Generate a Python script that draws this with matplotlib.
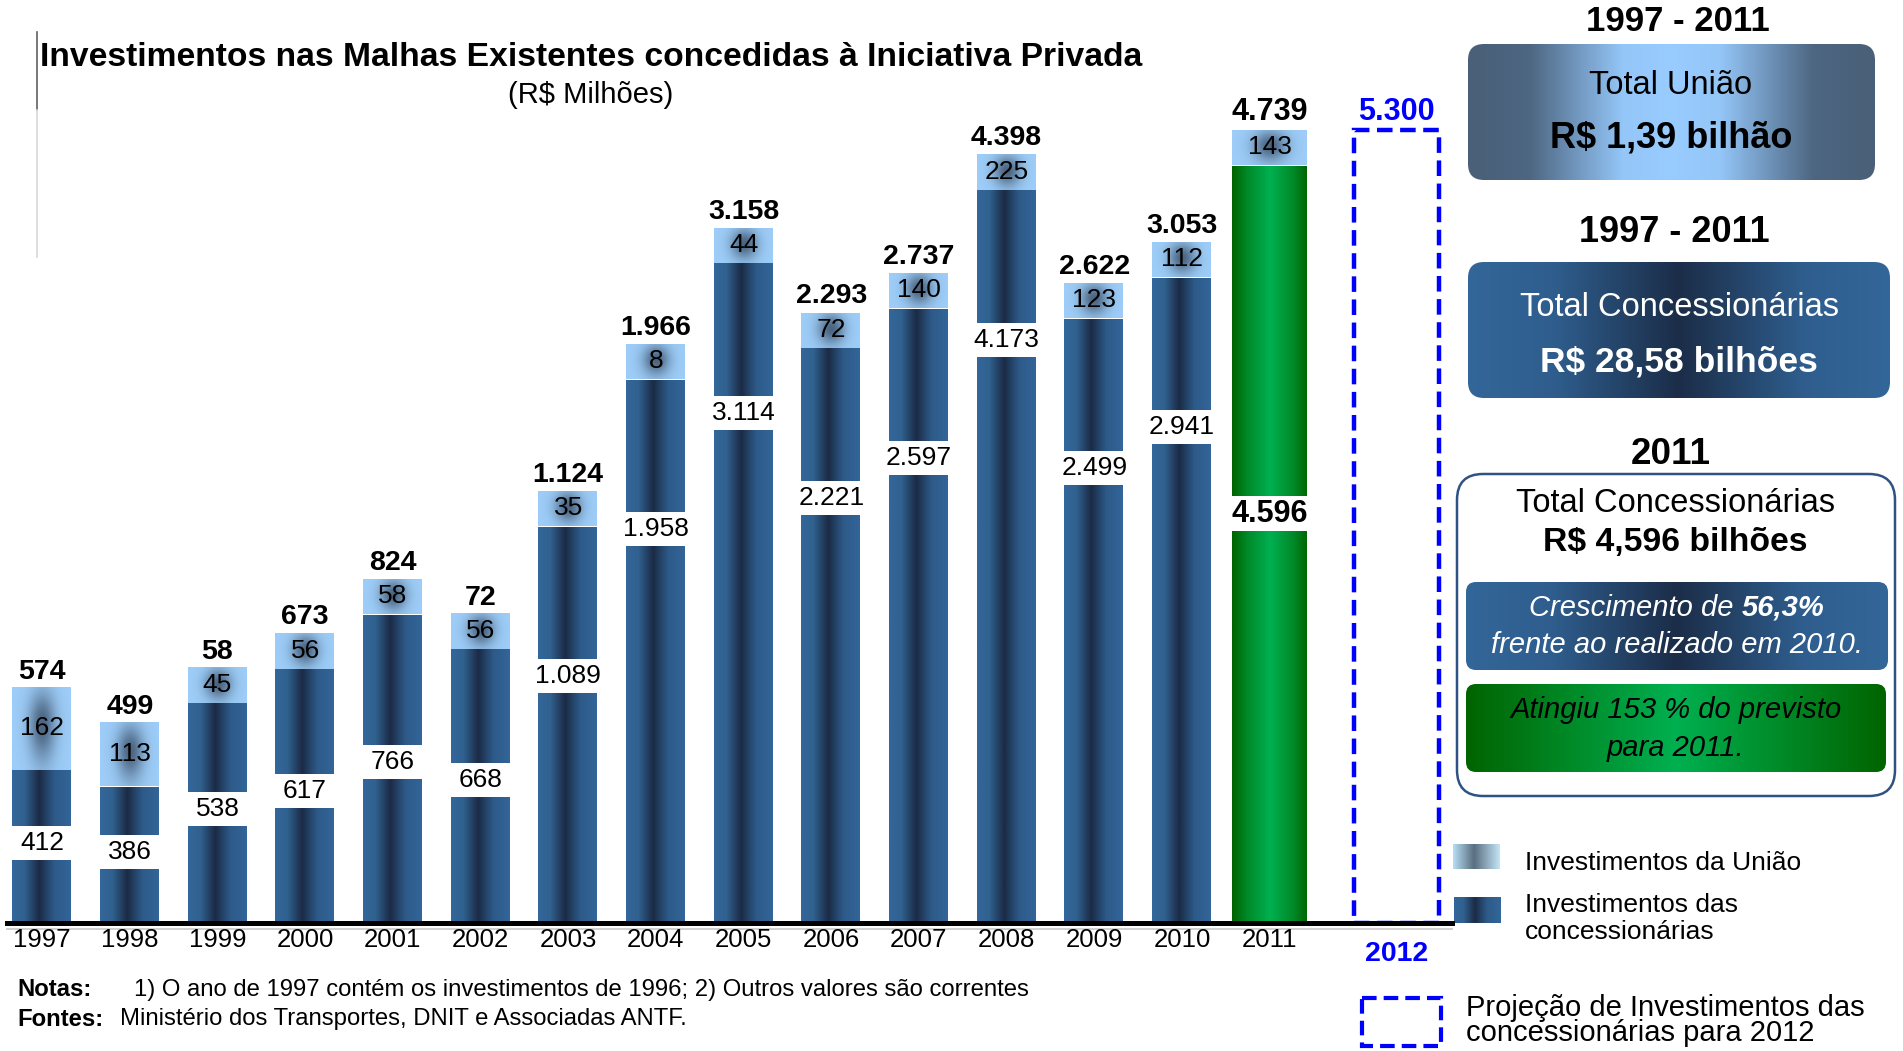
import numpy as np
import matplotlib.pyplot as plt
from matplotlib.colors import LinearSegmentedColormap, to_rgb
from matplotlib.patches import FancyBboxPatch, Rectangle

plt.rcParams['font.family'] = ['Liberation Sans', 'DejaVu Sans']

# values in R$ milhoes
years = [1997, 1998, 1999, 2000, 2001, 2002, 2003, 2004, 2005, 2006, 2007, 2008, 2009, 2010, 2011]
concessionarias = [412, 386, 538, 617, 766, 668, 1089, 1958, 3114, 2221, 2597, 4173, 2499, 2941, 4596]
uniao = [162, 113, 45, 56, 58, 56, 35, 8, 44, 72, 140, 225, 123, 112, 143]
# totals as printed above the bars (1999 and 2002 are cut off in the original)
total_labels = ['574', '499', '58', '673', '824', '72', '1.124', '1.966', '3.158', '2.293',
                '2.737', '4.398', '2.622', '3.053', '4.739']
proj_year = 2012
proj_value = 5300


def fmt(v):
    return f'{v:,}'.replace(',', '.')


BLUE = [(0, '#33669a'), (0.2, '#30618f'), (0.45, '#1b2b45'), (0.7, '#2d5a88'), (1, '#33669a')]
GREEN = [(0, '#006400'), (0.2, '#008a2a'), (0.5, '#00b050'), (0.8, '#008a2a'), (1, '#006400')]
BOX1 = [(0, '#4a5f78'), (0.15, '#4d6681'), (0.38, '#94c6f8'), (0.5, '#99ccff'),
        (0.62, '#94c6f8'), (0.85, '#4d6681'), (1, '#4a5f78')]
BOX2 = [(0, '#336699'), (0.2, '#2f5e8e'), (0.5, '#1b2d48'), (0.8, '#2f5e8e'), (1, '#336699')]
GBOX = [(0, '#006400'), (0.5, '#00b050'), (1, '#006400')]
USW = [(0, '#b8def5'), (0.45, '#5a6e80'), (1, '#c4e6f8')]


def hgrad(axis, extent, stops, clip, z):
    cmap = LinearSegmentedColormap.from_list('g', stops)
    im = axis.imshow(np.linspace(0, 1, 256)[None, :], cmap=cmap, extent=extent,
                     aspect='auto', interpolation='bilinear', zorder=z)
    im.set_clip_path(clip)
    return im


def cap_rgb(n=64):
    u = np.linspace(-1, 1, n)
    t = np.exp(-(u[None, :] / 0.45) ** 2) * np.exp(-(u[:, None] / 0.85) ** 2)
    light, dark = np.array(to_rgb('#9dcdf8')), np.array(to_rgb('#4b6480'))
    return light + (dark - light) * t[..., None]


W, H = 1903, 1051
fig = plt.figure(figsize=(W / 100, H / 100), dpi=100)

# pixel overlay for titles, notes and the side panel
ov = fig.add_axes([0, 0, 1, 1])
ov.set_xlim(0, W)
ov.set_ylim(H, 0)
ov.axis('off')

base = 923
ax = fig.add_axes([7 / W, (H - base) / H, 1445 / W, base / H])
ax.patch.set_alpha(0)
ax.set_yscale('log')
floor = 223.5
ax.set_ylim(floor, 8890)
ax.set_xlim(-0.4, 16.08)
for s in ['top', 'right', 'left']:
    ax.spines[s].set_visible(False)
ax.spines['bottom'].set_linewidth(3.6)
ax.spines['bottom'].set_zorder(6)
ax.set_xticks([])
ax.set_yticks([])
ax.set_yticks([], minor=True)
ax.tick_params(which='both', left=False, bottom=False)


def ypx(xv, yv):
    return ax.transData.transform((xv, yv))[1]


def up(xv, yv, dpx):
    X, Y = ax.transData.transform((xv, yv))
    return ax.transData.inverted().transform((X, Y + dpx))[1]


x = np.arange(len(years))
bar_w = np.full(len(years), 0.68)
hl = len(years) - 1          # 2011 highlighted in green, wider
bar_w[hl] = 0.86

conc_bars = ax.bar(x, np.subtract(concessionarias, floor), bottom=floor, width=bar_w,
                   color='none', lw=0)
for i, p in enumerate(conc_bars):
    hgrad(ax, (p.get_x(), p.get_x() + p.get_width(), floor, concessionarias[i]),
          GREEN if i == hl else BLUE, p, 1.5)

# union caps, given a minimum height so the label fits
cap_min = 36
tops = [max(c + u, up(xi, c, cap_min)) for xi, c, u in zip(x, concessionarias, uniao)]
cap_bars = ax.bar(x, np.subtract(tops, concessionarias), bottom=concessionarias, width=bar_w,
                  color='none', lw=0)
for i, p in enumerate(cap_bars):
    im = ax.imshow(cap_rgb(), extent=(p.get_x(), p.get_x() + p.get_width(),
                                      concessionarias[i], tops[i]),
                   aspect='auto', interpolation='bilinear', zorder=1.6)
    im.set_clip_path(p)
    xi, c = x[i], concessionarias[i]
    mid = up(xi, c, (ypx(xi, tops[i]) - ypx(xi, c)) / 2)
    ax.text(xi, mid, str(uniao[i]), ha='center', va='center', fontsize=19, zorder=5)

# concessionaire values sit in a white gap cut into the bar
for i, (xi, c) in enumerate(zip(x, concessionarias)):
    h = ypx(xi, c) - ypx(xi, floor)
    off = 0.46 * h if i == hl else min(0.48 * h, 150)
    yc = up(xi, c, -off)
    lo, hi = up(xi, c, -off - 17), up(xi, c, -off + 17)
    w = bar_w[i]
    ax.add_patch(Rectangle((xi - w / 2 - 0.01, lo), w + 0.02, hi - lo, color='white', lw=0, zorder=3))
    ax.text(xi, yc, fmt(c), ha='center', va='center', zorder=4,
            fontsize=22 if i == hl else 19, fontweight='bold' if i == hl else 'normal',
            bbox=dict(boxstyle='square,pad=0.08', fc='white', ec='none'))

for i, (xi, t) in enumerate(zip(x, tops)):
    ax.annotate(total_labels[i], (xi, t), xytext=(0, 1.5), textcoords='offset points',
                ha='center', va='bottom', fontsize=22 if i == hl else 20.5, fontweight='bold')
    ax.annotate(str(years[i]), (xi, floor), xytext=(0, -12), textcoords='offset points',
                ha='center', va='center', fontsize=18.5)

# 2012 projection
proj_x = len(years) + 0.45
ax.bar(proj_x, proj_value - floor, bottom=floor, width=0.97, fill=False, edgecolor='#0000ff',
       lw=3.2, linestyle=(0, (3.5, 1.7)), zorder=2)
ax.annotate(fmt(proj_value), (proj_x, proj_value), xytext=(0, 2), textcoords='offset points',
            ha='center', va='bottom', fontsize=22, fontweight='bold', color='#0000ff')
ax.annotate(str(proj_year), (proj_x, floor), xytext=(0, -22), textcoords='offset points',
            ha='center', va='center', fontsize=20.5, fontweight='bold', color='#0000ff')

# ---- overlay: title, notes, decorations ----
ov.plot([7, 1452], [929, 929], color='#d0d0d0', lw=1.4)
ov.plot([37, 37], [32, 110], color='#606060', lw=1.2)
ov.plot([37, 37], [110, 257], color='#d8d8d8', lw=1.2)
ov.text(591, 57, 'Investimentos nas Malhas Existentes concedidas à Iniciativa Privada',
        ha='center', va='center', fontsize=24.2, fontweight='bold')
ov.text(591, 95, '(R$ Milhões)', ha='center', va='center', fontsize=21)
ov.text(17, 990, 'Notas:', fontsize=17.2, fontweight='bold', va='center')
ov.text(134, 990, '1) O ano de 1997 contém os investimentos de 1996; 2) Outros valores são correntes',
        fontsize=17.2, va='center')
ov.text(17, 1019, 'Fontes:', fontsize=17.2, fontweight='bold', va='center')
ov.text(120, 1019, 'Ministério dos Transportes, DNIT e Associadas ANTF.', fontsize=17.2, va='center')


def rbox(x0, y0, x1, y1, r, stops=None, **kw):
    p = FancyBboxPatch((x0, y0), x1 - x0, y1 - y0, boxstyle=f'round,pad=0,rounding_size={r}', **kw)
    ov.add_patch(p)
    if stops is not None:
        p.set_facecolor('none')
        p.set_edgecolor('none')
        hgrad(ov, (x0, x1, y1, y0), stops, p, 1)
    return p


ov.text(1678, 31, '1997 - 2011', ha='center', va='baseline', fontsize=25, fontweight='bold')
rbox(1468, 44, 1875, 180, 16, BOX1)
ov.text(1671, 85, 'Total União', ha='center', va='center', fontsize=23.5, zorder=3)
ov.text(1671, 138, 'R$ 1,39 bilhão', ha='center', va='center', fontsize=26, fontweight='bold', zorder=3)

ov.text(1674, 232, '1997 - 2011', ha='center', va='center', fontsize=26, fontweight='bold')
rbox(1468, 262, 1890, 398, 16, BOX2)
ov.text(1679, 308, 'Total Concessionárias', ha='center', va='center', fontsize=23.5,
        color='white', zorder=3)
ov.text(1679, 362, 'R$ 28,58 bilhões', ha='center', va='center', fontsize=25.5,
        fontweight='bold', color='white', zorder=3)

ov.text(1671, 455, '2011', ha='center', va='center', fontsize=26.5, fontweight='bold')
rbox(1457, 474, 1895, 796, 26, fc='white', ec='#2e5283', lw=1.8)
ov.text(1675, 503, 'Total Concessionárias', ha='center', va='center', fontsize=23.5, zorder=3)
ov.text(1675, 543, 'R$ 4,596 bilhões', ha='center', va='center', fontsize=24.3,
        fontweight='bold', zorder=3)

rbox(1466, 582, 1888, 670, 10, BOX2)
r = fig.canvas.get_renderer()
t1 = ov.text(0, 608, 'Crescimento de', style='italic', color='white', fontsize=21,
             va='center', ha='left', zorder=3)
t2 = ov.text(0, 608, '56,3%', style='italic', fontweight='bold', color='white', fontsize=21,
             va='center', ha='left', zorder=3)
w1, w2 = t1.get_window_extent(r).width, t2.get_window_extent(r).width
x_start = 1677 - (w1 + 8 + w2) / 2
t1.set_x(x_start)
t2.set_x(x_start + w1 + 8)
ov.text(1677, 645, 'frente ao realizado em 2010.', style='italic', color='white', fontsize=21,
        ha='center', va='center', zorder=3)

rbox(1466, 684, 1886, 772, 10, GBOX)
ov.text(1676, 710, 'Atingiu 153 % do previsto', style='italic', fontsize=21,
        ha='center', va='center', zorder=3)
ov.text(1676, 748, 'para 2011.', style='italic', fontsize=21, ha='center', va='center', zorder=3)

# legend
sw1 = Rectangle((1453, 844), 47, 25, fc='none', ec='none')
ov.add_patch(sw1)
hgrad(ov, (1453, 1500, 869, 844), USW, sw1, 1)
sw2 = Rectangle((1454, 897), 47, 26, fc='none', ec='none')
ov.add_patch(sw2)
hgrad(ov, (1454, 1501, 923, 897), BLUE, sw2, 1)
ov.text(1525, 863, 'Investimentos da União', fontsize=19, va='center')
ov.text(1525, 905, 'Investimentos das', fontsize=19, va='center')
ov.text(1525, 932, 'concessionárias', fontsize=19, va='center')

ov.add_patch(Rectangle((1362, 998), 79, 48, fill=False, ec='#0000ff', lw=3,
                       linestyle=(0, (3.5, 1.7))))
ov.text(1466, 1008, 'Projeção de Investimentos das', fontsize=21, va='center')
ov.text(1466, 1033, 'concessionárias para 2012', fontsize=21, va='center')

fig.savefig('out.png', dpi=100)
